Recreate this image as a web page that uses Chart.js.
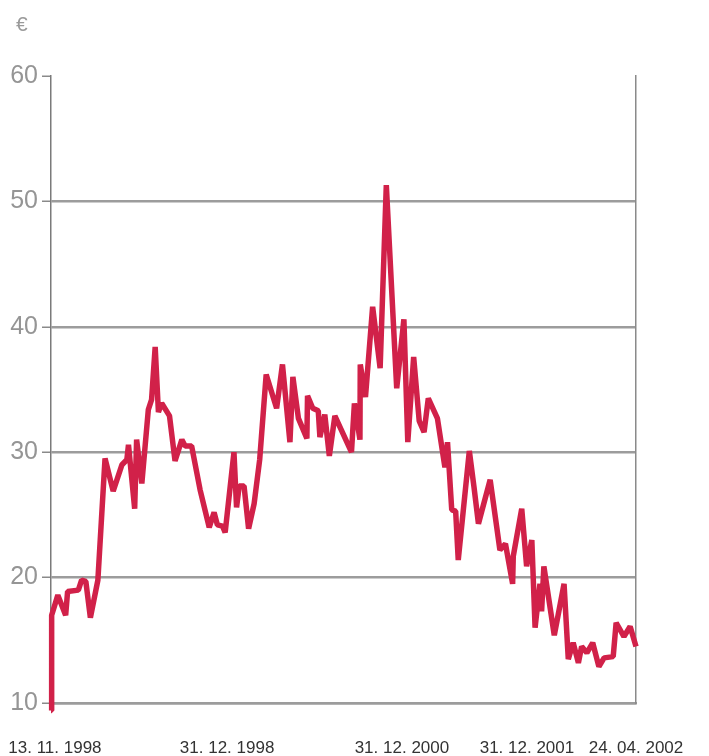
<!DOCTYPE html>
<html>
<head>
<meta charset="utf-8">
<script src="https://cdn.jsdelivr.net/npm/chart.js@4.4.0/dist/chart.umd.min.js"></script>
<style>
  body { margin: 0; background: #fff; }
  #wrap { position: relative; width: 709px; height: 756px; }
  #unit {
    position: absolute; left: 16px; top: 12px;
    font: 21px "Liberation Sans", Arial, sans-serif; color: #9a9a9a;
  }
</style>
</head>
<body>
<div id="wrap">
  <canvas id="kurs" width="709" height="756"></canvas>
  <div id="unit">€</div>
</div>
<script>
// Kursverlauf in Euro, t = Zeitindex von 13.11.1998 bis 24.04.2002
const zeit = [
  0, 0.2, 2.1, 4.5, 5.1, 8.4, 9.4, 10.7, 12.1, 14.4,
  16.6, 19.1, 21.8, 23.3, 23.8, 25.7, 26.3, 27.9, 29.9, 30.9,
  32.0, 33.0, 34.0, 36.4, 38.1, 40.2, 41.2, 43.2, 45.8, 48.6,
  50.1, 51.1, 52.7, 53.5, 56.2, 57.0, 57.8, 59.3, 60.7, 62.4,
  64.1, 66.1, 69.3, 71.1, 73.4, 74.3, 76.0, 78.6, 78.8, 80.4,
  82.1, 82.6, 84.1, 85.5, 87.2, 92.3, 93.2, 94.9, 95.0, 96.6,
  98.8, 101.1, 103.0, 106.2, 108.4, 109.6, 111.4, 113.1, 114.6, 115.9,
  118.7, 121.0, 121.8, 123.1, 124.3, 125.1, 128.5, 129.9, 131.3, 134.9,
  137.9, 139.6, 141.8, 142.0, 144.6, 146.1, 147.7, 148.7, 150.2, 150.7,
  151.4, 154.6, 157.6, 158.9, 160.4, 162.0, 163.0, 164.6, 166.4, 168.3,
  169.9, 172.7, 173.6, 176.0, 177.9, 179.7
];
const kurs = [
  9.4, 17.0, 18.6, 17.0, 18.9, 19.0, 19.8, 19.7, 16.8, 19.8,
  29.5, 26.9, 29.0, 29.4, 30.6, 25.5, 31.0, 27.5, 33.4, 34.2,
  38.4, 33.2, 33.9, 32.9, 29.3, 31.0, 30.5, 30.5, 27.0, 24.0,
  25.2, 24.2, 24.1, 23.6, 30.0, 25.6, 27.3, 27.3, 23.9, 25.9,
  29.4, 36.2, 33.5, 37.0, 30.8, 36.0, 32.7, 31.1, 34.5, 33.5,
  33.3, 31.2, 33.0, 29.7, 32.9, 30.0, 33.9, 31.0, 37.0, 34.4,
  41.6, 36.7, 51.3, 35.1, 40.6, 30.8, 37.6, 32.5, 31.6, 34.3,
  32.7, 28.8, 30.8, 25.4, 25.3, 21.4, 30.1, 27.3, 24.3, 27.8,
  22.2, 22.7, 19.5, 21.7, 25.5, 20.9, 23.0, 16.0, 19.5, 17.3,
  20.9, 15.4, 19.5, 13.5, 14.8, 13.2, 14.5, 14.0, 14.8, 12.9,
  13.6, 13.7, 16.4, 15.3, 16.1, 14.5
];
const datumPos = [1.2, 54.1, 107.8, 146.2, 179.7];
const datumLabels = ['13. 11. 1998', '31. 12. 1998', '31. 12. 2000', '31. 12. 2001', '24. 04. 2002'];
const yTicks = [10, 20, 30, 40, 50, 60];

const punkte = zeit.map((t, i) => ({ x: t, y: kurs[i] }));

new Chart(document.getElementById('kurs'), {
  type: 'line',
  data: {
    datasets: [{
      data: punkte,
      borderColor: '#d12149',
      borderWidth: 5.5,
      borderJoinStyle: 'bevel',
      pointRadius: 0,
      tension: 0,
      clip: false
    }]
  },
  options: {
    responsive: false,
    animation: false,
    layout: { padding: { top: 76, right: 73, left: 0, bottom: 0 } },
    plugins: { legend: { display: false }, tooltip: { enabled: false } },
    scales: {
      x: {
        type: 'linear',
        min: 0,
        max: zeit[zeit.length - 1],
        afterBuildTicks: (scale) => {
          scale.ticks = datumPos.map(v => ({ value: v }));
        },
        afterFit: (scale) => {
          scale.height = 53;
          scale.paddingLeft = 0;
          scale.paddingRight = 0;
        },
        grid: { display: false, drawTicks: false },
        border: { display: true, color: '#9c9c9c', width: 2.5 },
        ticks: {
          autoSkip: false,
          maxRotation: 0,
          padding: 35,
          color: '#333',
          font: { family: '"Liberation Sans", Arial, sans-serif', size: 17 },
          callback: (value, index) => datumLabels[index]
        }
      },
      y: {
        min: 10,
        max: 60,
        afterBuildTicks: (scale) => {
          scale.ticks = yTicks.map(v => ({ value: v }));
        },
        afterFit: (scale) => { scale.width = 51; },
        grid: {
          color: (ctx) => ctx.tick && ctx.tick.value === 60 ? 'rgba(0,0,0,0)' : '#9c9c9c',
          lineWidth: 2.5,
          tickColor: '#8a8a8a',
          tickWidth: 1.5,
          tickLength: 9
        },
        border: { display: true, color: '#7a7a7a', width: 1.5 },
        ticks: {
          padding: 4,
          color: '#959595',
          font: { family: '"Liberation Sans", Arial, sans-serif', size: 25 }
        }
      },
      y2: {
        position: 'right',
        min: 10,
        max: 60,
        afterFit: (scale) => { scale.width = 0; },
        grid: { display: false, drawTicks: false },
        border: { display: true, color: '#8a8a8a', width: 1.5 },
        ticks: { display: false }
      }
    }
  }
});
</script>
</body>
</html>
